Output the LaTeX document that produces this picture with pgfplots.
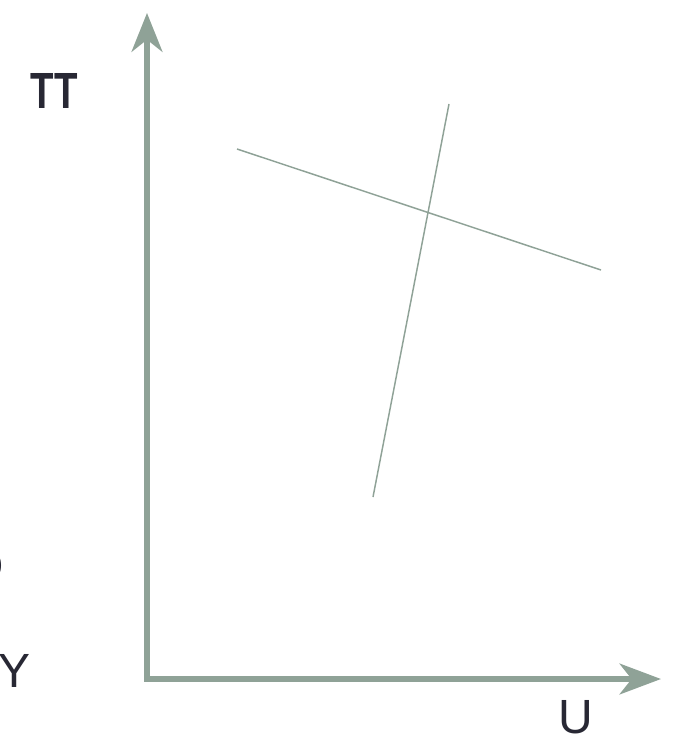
\documentclass[border=0pt]{standalone}
\usepackage{pgfplots}
\pgfplotsset{compat=1.18}
\usepackage{fontspec}
\setmainfont{Liberation Sans}
\usetikzlibrary{arrows.meta}
\definecolor{axgreen}{RGB}{143,162,151}
\definecolor{txt}{RGB}{40,40,52}
\begin{document}
\begin{tikzpicture}
\begin{axis}[
  width=504.75pt, height=556.5pt, scale only axis,
  xmin=0, xmax=673, ymin=0, ymax=742, y dir=reverse,
  hide axis, clip=false,
]
% axes with arrows
\addplot[axgreen, line width=4.6pt, line join=miter,
  {Stealth[length=29pt,width=23pt,inset=9pt]}-{Stealth[length=31pt,width=23pt,inset=9pt]}]
  coordinates {(147,13) (147,679) (661,679)};
% two crossing lines
\addplot[axgreen, line width=1.1pt] coordinates {(237,149) (601,270)};
\addplot[axgreen, line width=1.1pt] coordinates {(449,104) (373,497)};
% labels
\node[txt, anchor=base, inner sep=0pt, font=\fontsize{36}{40}\selectfont\bfseries] at (axis cs:54,108) {\scalebox{0.8}[1.06]{T\kern1pt T}};
\node[txt, anchor=base, inner sep=0pt, font=\fontsize{36}{40}\selectfont] at (axis cs:576,733) {U};
\node[txt, anchor=base, inner sep=0pt, font=\fontsize{36}{40}\selectfont] at (axis cs:15,687) {Y};
\node[txt, anchor=base east, inner sep=0pt, font=\fontsize{36}{40}\selectfont] at (axis cs:4,582) {O};
\end{axis}
\pgfresetboundingbox
\path[use as bounding box] (current axis.south west) rectangle (current axis.north east);
\end{tikzpicture}
\end{document}
